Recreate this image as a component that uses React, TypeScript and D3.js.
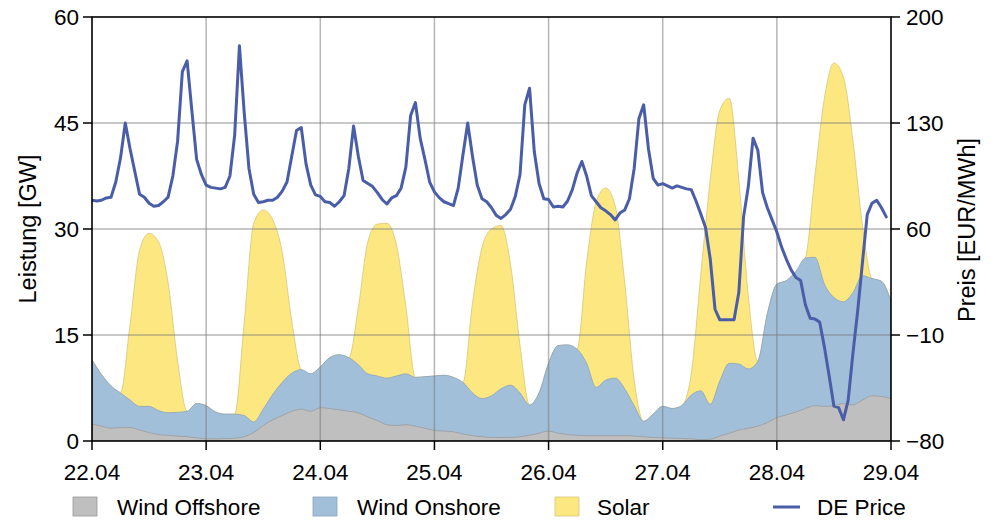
import React from 'react';
import * as d3 from 'd3';

// x-axis day labels (one per day boundary)
const dayLabels = ["22.04", "23.04", "24.04", "25.04", "26.04", "27.04", "28.04", "29.04"];
const gwTicks = [0, 15, 30, 45, 60];
const priceTicks = [-80, -10, 60, 130, 200];

// stacked generation in GW, sampled every 2 hours from 22.04 00:00
const windOffshore = [
  2.4, 2.1, 1.8, 1.9, 1.9, 1.55, 1.2, 0.9, 0.8, 0.7, 0.6, 0.45,
  0.3, 0.3, 0.35, 0.4, 0.6, 1.2, 2.2, 3.0, 3.6, 4.2, 4.5, 4.2,
  4.7, 4.6, 4.4, 4.2, 4.0, 3.4, 2.9, 2.3, 2.2, 2.3, 2.1, 1.8,
  1.5, 1.4, 1.3, 1.0, 0.75, 0.6, 0.5, 0.5, 0.5, 0.6, 0.8, 1.1,
  1.4, 1.1, 0.9, 0.8, 0.75, 0.75, 0.75, 0.75, 0.75, 0.7, 0.6, 0.5,
  0.45, 0.4, 0.35, 0.3, 0.2, 0.25, 0.7, 1.1, 1.55, 1.8, 2.1, 2.6,
  3.3, 3.7, 4.1, 4.6, 5.0, 4.9, 5.0, 5.3, 5.1, 5.8, 6.4, 6.3,
  6.0,
];
const windOnshore = [
  9.1, 7.3, 6.0, 4.9, 3.9, 3.35, 3.7, 3.4, 3.2, 3.35, 3.6, 4.85,
  4.7, 3.8, 3.45, 3.4, 3.0, 1.5, 2.3, 3.6, 4.7, 5.4, 5.6, 5.3,
  5.8, 7.2, 7.8, 7.6, 6.8, 6.1, 6.3, 6.6, 7.0, 7.2, 6.9, 7.3,
  7.7, 7.9, 7.7, 7.3, 6.05, 5.4, 5.9, 6.9, 7.4, 6.2, 4.3, 5.7,
  9.6, 12.4, 12.7, 12.2, 10.25, 6.85, 7.85, 8.15, 6.65, 4.3, 2.2, 3.3,
  4.45, 4.2, 4.65, 6.2, 6.9, 4.95, 7.8, 9.9, 9.35, 8.4, 9.2, 15.4,
  18.9, 19.0, 19.9, 21.3, 21.0, 17.3, 15.3, 14.4, 15.9, 17.6, 16.6, 16.3,
  13.8,
];
const solar = [
  0, 0, 0, 0.1, 10.7, 22.1, 24.5, 23.9, 18.4, 7.25, 0, 0,
  0, 0, 0, 0, 13.2, 28.1, 28.2, 24.7, 18.4, 7.4, 0, 0,
  0, 0, 0, 0, 8.1, 18.7, 21.5, 21.9, 18.6, 9.5, 0, 0,
  0, 0, 0, 0, 12.7, 21.4, 23.6, 23.1, 17.1, 6.7, 0, 0,
  0, 0, 0, 0, 14.3, 26.2, 27.2, 24.4, 15.1, 3.6, 0, 0,
  0, 0, 0, 3.0, 16.4, 31.8, 38.3, 37.5, 26.1, 10.3, 0, 0,
  0, 0, 0, 0, 11.5, 26.3, 33.2, 31.8, 21.5, 7.1, 0, 0,
  0,
];

// day-ahead price in EUR/MWh, hourly from 22.04 00:00
const dePrice = [
  79, 78.5, 79, 80.5, 81, 91, 107, 130, 113, 98, 83, 81,
  77, 75, 75.5, 78, 81, 95, 118, 164, 171, 138, 106, 96,
  89, 87.5, 87, 86.5, 87.5, 95, 122, 181, 137, 100, 83, 77.5,
  78, 79, 79, 81, 85, 91, 108, 125, 127, 103, 89, 82.5,
  81.5, 78, 77.5, 75, 78, 82, 100, 128, 108, 92, 90, 88,
  84, 79.5, 76.5, 80.5, 82, 87, 101, 135, 143.5, 120, 106, 91,
  84.5, 80.7, 78, 76.8, 75.5, 87, 109, 130, 108, 89, 80, 78,
  74, 69, 67, 69.5, 73, 81.5, 96, 142, 153, 111, 90, 80,
  79.5, 74.5, 75, 74.5, 78.5, 86, 97, 104.6, 95, 82, 78, 74,
  72, 69.5, 66, 70.5, 72.5, 80, 100, 133, 142, 113, 93.5, 89,
  90, 88.5, 87, 88.5, 87.5, 86.5, 86, 78.5, 70, 61, 40, 7,
  0, 0, 0, 0, 18, 68, 88, 120, 112, 84, 74, 66,
  58, 48, 40, 33, 28, 26, 10, 1, 0.5, -1.5, -18, -37,
  -57, -58, -66, -53, -22, 6, 38, 69.5, 77, 79, 74, 68,
];

const FONT = '"Liberation Sans", Arial, Helvetica, sans-serif';

export default function App() {
  const W = 995, H = 523;
  const left = 92, right = 891, top = 17, bottom = 441;

  const x = d3.scaleLinear().domain([0, 168]).range([left, right]);
  const yGW = d3.scaleLinear().domain([0, 60]).range([bottom, top]);
  const yP = d3.scaleLinear().domain([-80, 200]).range([bottom, top]);

  const rows = windOffshore.map((o, i) => ({ h: i * 2, off: o, on: windOnshore[i], sol: solar[i] }));
  const stacked = d3.stack<any>().keys(['off', 'on', 'sol'])(rows);

  const areaGen = d3.area<any>()
    .x((d: any) => x(d.data.h))
    .y0(yGW(0))
    .y1((d: any) => yGW(d[1]))
    .curve(d3.curveMonotoneX);

  const priceLine = d3.line<number>()
    .x((_d, i) => x(i))
    .y((d) => yP(d));

  const layers = [
    { key: 'sol', fill: '#fde780', stroke: '#d8c77a' },
    { key: 'on', fill: '#a2bfda', stroke: '#8aa3bc' },
    { key: 'off', fill: '#bfbfbf', stroke: '#9a9a9a' },
  ];
  const layerIndex: Record<string, number> = { off: 0, on: 1, sol: 2 };

  const dayHours = dayLabels.map((_, i) => i * 24);

  const legendItems = [
    { label: 'Wind Offshore', type: 'rect', fill: '#bfbfbf', stroke: '#9a9a9a', x: 73, tx: 117 },
    { label: 'Wind Onshore', type: 'rect', fill: '#a2bfda', stroke: '#8aa3bc', x: 313, tx: 357 },
    { label: 'Solar', type: 'rect', fill: '#fde780', stroke: '#d8c77a', x: 555, tx: 597 },
    { label: 'DE Price', type: 'line', fill: '#4a5da8', stroke: '#4a5da8', x: 773, tx: 817 },
  ];

  return (
    <svg width={W} height={H} style={{ position: 'absolute', left: 0, top: 0, background: '#fff' }}
      fontFamily={FONT}>
      <defs>
        <clipPath id="plotClip">
          <rect x={left} y={top} width={right - left} height={bottom - top} />
        </clipPath>
      </defs>
      <rect x={0} y={0} width={W} height={H} fill="#fff" />
      <g clipPath="url(#plotClip)">
        {layers.map((l) => (
          <path key={l.key} d={areaGen(stacked[layerIndex[l.key]] as any) || ''}
            fill={l.fill} stroke={l.stroke} strokeWidth={0.8} />
        ))}
        {/* grid */}
        {dayHours.slice(1, -1).map((h) => (
          <line key={'vg' + h} x1={x(h)} x2={x(h)} y1={top} y2={bottom}
            stroke="#7a7a7a" strokeOpacity={0.55} strokeWidth={1.5} />
        ))}
        {gwTicks.slice(1, -1).map((t) => (
          <line key={'hg' + t} x1={left} x2={right} y1={yGW(t)} y2={yGW(t)}
            stroke="#7a7a7a" strokeOpacity={0.55} strokeWidth={1.5} />
        ))}
        <path d={priceLine(dePrice) || ''} fill="none" stroke="#4a5da8" strokeWidth={3}
          strokeLinejoin="round" strokeLinecap="round" />
      </g>
      {/* spines */}
      <rect x={left} y={top} width={right - left} height={bottom - top} fill="none" stroke="#000" strokeWidth={1.6} />
      {/* left axis */}
      {gwTicks.map((t) => (
        <g key={'lt' + t}>
          <line x1={left - 9} x2={left} y1={yGW(t)} y2={yGW(t)} stroke="#000" strokeWidth={1.5} />
          <text x={left - 13} y={yGW(t)} dy="0.36em" textAnchor="end" fontSize={22.5} fill="#000">{t}</text>
        </g>
      ))}
      {/* right axis */}
      {priceTicks.map((t) => (
        <g key={'rt' + t}>
          <line x1={right} x2={right + 9} y1={yP(t)} y2={yP(t)} stroke="#000" strokeWidth={1.5} />
          <text x={right + 15} y={yP(t)} dy="0.36em" textAnchor="start" fontSize={22.5} fill="#000">
            {t < 0 ? '\u2212' + Math.abs(t) : String(t)}
          </text>
        </g>
      ))}
      {/* bottom axis */}
      {dayHours.map((h, i) => (
        <g key={'bt' + h}>
          <line x1={x(h)} x2={x(h)} y1={bottom} y2={bottom + 9} stroke="#000" strokeWidth={1.5} />
          <text x={x(h)} y={480} textAnchor="middle" fontSize={22.5} fill="#000">{dayLabels[i]}</text>
        </g>
      ))}
      {/* axis titles */}
      <text transform="translate(36,229) rotate(-90)" textAnchor="middle" fontSize={23.5} fill="#000">Leistung [GW]</text>
      <text transform="translate(975,230) rotate(-90)" textAnchor="middle" fontSize={23.5} fill="#000">Preis [EUR/MWh]</text>
      {/* legend */}
      {legendItems.map((it) => (
        <g key={it.label}>
          {it.type === 'rect' ? (
            <rect x={it.x} y={497} width={24} height={19} fill={it.fill} stroke={it.stroke} strokeWidth={0.8} />
          ) : (
            <line x1={it.x} x2={it.x + 27} y1={507} y2={507} stroke={it.stroke} strokeWidth={3} />
          )}
          <text x={it.tx} y={515} fontSize={22.5} fill="#000">{it.label}</text>
        </g>
      ))}
    </svg>
  );
}
